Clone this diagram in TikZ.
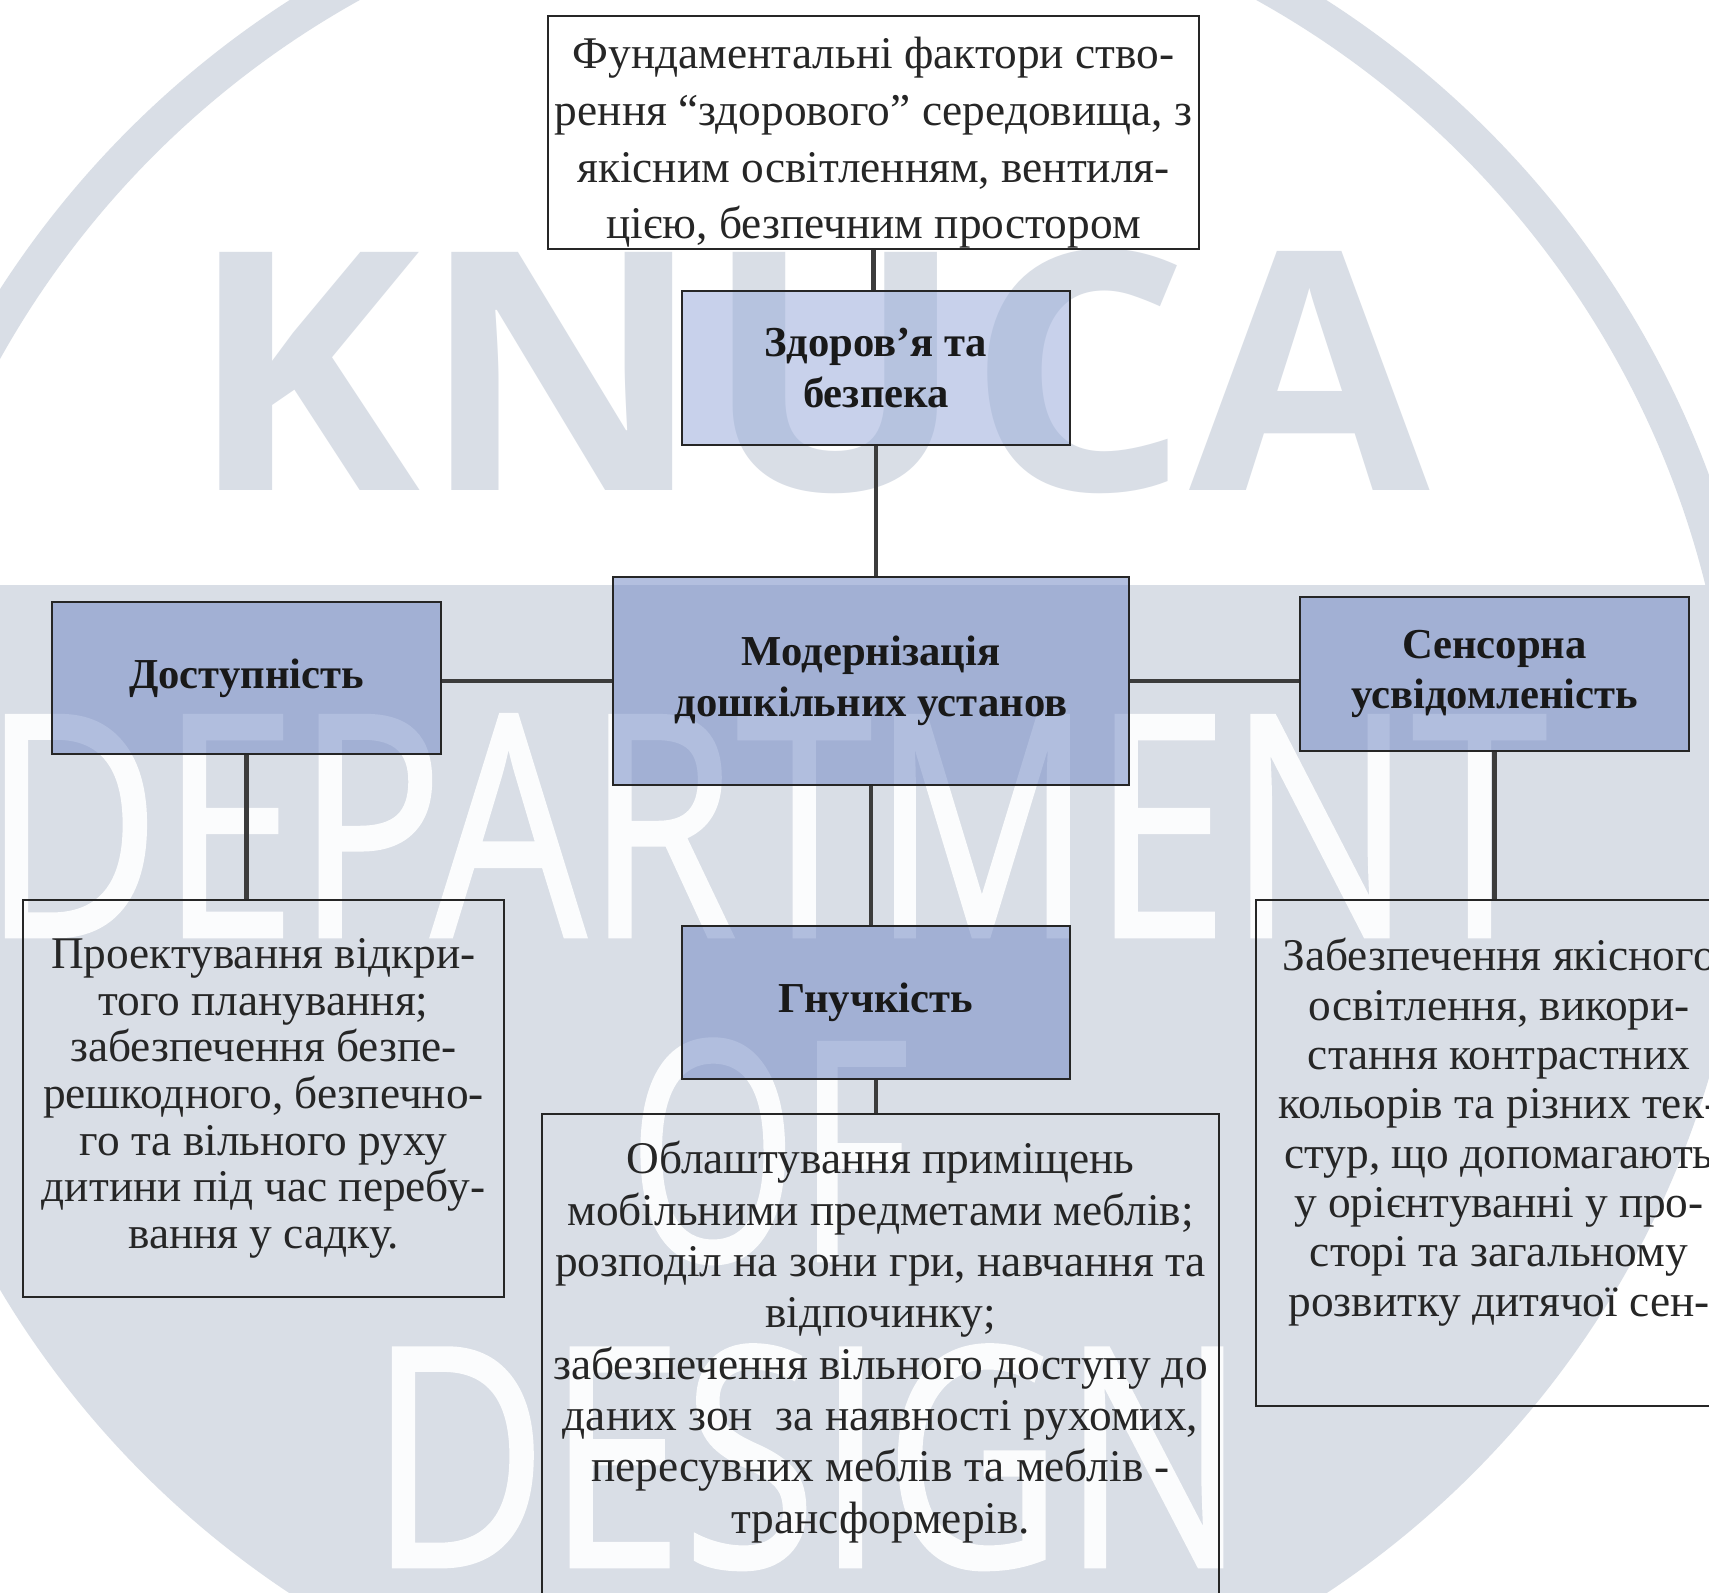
\documentclass[tikz,border=0pt]{standalone}
\usepackage{fontspec}
\usepackage{graphicx}
\setmainfont{Liberation Serif}
\newfontfamily\wmfont{Open Sans}
\newfontfamily\wmthin{Open Sans}[FakeBold=1.2]

\definecolor{wmgray}{RGB}{217,222,230}
\definecolor{wmwhite}{RGB}{251,252,253}
\definecolor{boxblue}{RGB}{118,140,198}
\definecolor{boxlight}{RGB}{155,173,219}
\definecolor{linegray}{RGB}{60,60,60}
\definecolor{txtgray}{RGB}{38,38,38}

\tikzset{every picture/.style={line width=0.75pt}}
\tikzset{
  headbox/.style={draw=black!85, line width=1.5pt, fill=boxblue, fill opacity=0.55, text opacity=1,
    align=center, inner sep=0pt, text=black!90, font=\bfseries\fontsize{32}{38}\selectfont},
  plainbox/.style={draw=black!85, line width=1.5pt, align=center, inner sep=0pt, text=txtgray,
    font=\fontsize{34}{42.5}\selectfont},
  bodytext/.style={align=center, inner sep=0pt, text=txtgray, font=\fontsize{34}{38.5}\selectfont},
  mark text/.style={anchor=south west, inner sep=0pt},
  link/.style={draw=linegray, line width=3.5pt},
}

\begin{document}
\begin{tikzpicture}[x=0.75pt,y=0.75pt,yscale=-1,xscale=1]
\useasboundingbox (0,0) rectangle (1709,1592);
\clip (0,0) rectangle (1709,1592);

% Background
\fill[white] (0,0) rectangle (1709,1592);
\begin{scope}
\clip (0,585) rectangle (1709,1592);
\fill[wmgray] (808,809) circle[radius=705pt];
\end{scope}
\begin{scope}
\clip (0,0) rectangle (1709,585);
\draw[wmgray, line width=27pt] (808,809) circle[radius=707pt];
\end{scope}

% Watermark
\node (knuca) [mark text, text=wmgray] at (188,494) {\resizebox{930pt}{181pt}{\wmfont\bfseries KNUCA}};
\node (dept) [mark text, text=wmwhite] at (-18,937) {\resizebox{1172pt}{166pt}{\wmthin DEPARTMENT}};
\node (of) [mark text, text=wmwhite] at (628,1264) {\resizebox{210pt}{166pt}{\wmthin OF}};
\node (design) [mark text, text=wmwhite] at (369,1570) {\resizebox{657pt}{166pt}{\wmthin DESIGN}};

% Shape: Rectangle
\node (found) [plainbox, fill=white, minimum width=488pt, minimum height=175pt] at (873.5,132.5) {};
\node (health) [headbox, fill=boxlight, minimum width=291pt, minimum height=115.5pt] at (876,368)
  {Здоров’я та\\безпека};
\node (modern) [headbox, minimum width=387pt, minimum height=156pt] at (871,681)
  {Модернізація\\дошкільних установ};
\node (access) [headbox, minimum width=292pt, minimum height=114pt] at (246.5,678)
  {Доступність};
\node (sensor) [headbox, minimum width=292pt, minimum height=115.5pt] at (1494.5,674)
  {Сенсорна\\усвідомленість};
\node (flex) [headbox, minimum width=291pt, minimum height=115pt] at (876,1002.5)
  {Гнучкість};
\node (accesstext) [plainbox, minimum width=361pt, minimum height=298pt, font=\fontsize{34}{35}\selectfont] at (263.5,1098.5)
  {Проектування відкри-\\того планування;\\забезпечення безпе-\\решкодного, безпечно-\\го та вільного руху\\дитини під час перебу-\\вання у садку.};
\node (sensorbox) [plainbox, minimum width=364.5pt, minimum height=379.5pt] at (1499,1153) {};
\node (flexbox) [plainbox, minimum width=508pt, minimum height=375pt] at (880.5,1364) {};

% Text Node
\node (foundtext) [bodytext, font=\fontsize{34}{42.5}\selectfont] at (873.5,143)
  {Фундаментальні фактори ство-\\рення “здорового” середовища, з\\якісним освітленням, вентиля-\\цією, безпечним простором};
\node (sensortext) [bodytext, font=\fontsize{34}{37}\selectfont] at (1499,1132)
  {Забезпечення якісного\\освітлення, викори-\\стання контрастних\\кольорів та різних тек-\\стур, що допомагають\\у орієнтуванні у про-\\сторі та загальному\\розвитку дитячої сен-};
\node (flextext) [bodytext] at (880.5,1342)
  {Облаштування приміщень\\мобільними предметами меблів;\\розподіл на зони гри, навчання та\\відпочинку;\\забезпечення вільного доступу до\\даних зон~~за наявності рухомих,\\пересувних меблів та меблів -\\трансформерів.};

% Straight Lines
\draw[link] (found.south) -- (found.south |- health.north);
\draw[link] (health.south) -- (health.south |- modern.north);
\draw[link] (modern.west) -- (modern.west -| access.east);
\draw[link] (modern.east) -- (modern.east -| sensor.west);
\draw[link] (modern.south) -- (modern.south |- flex.north);
\draw[link] (flex.south) -- (flex.south |- flexbox.north);
\draw[link] (access.south) -- (access.south |- accesstext.north);
\draw[link] (sensor.south) -- (sensor.south |- sensorbox.north);
\end{tikzpicture}
\end{document}
